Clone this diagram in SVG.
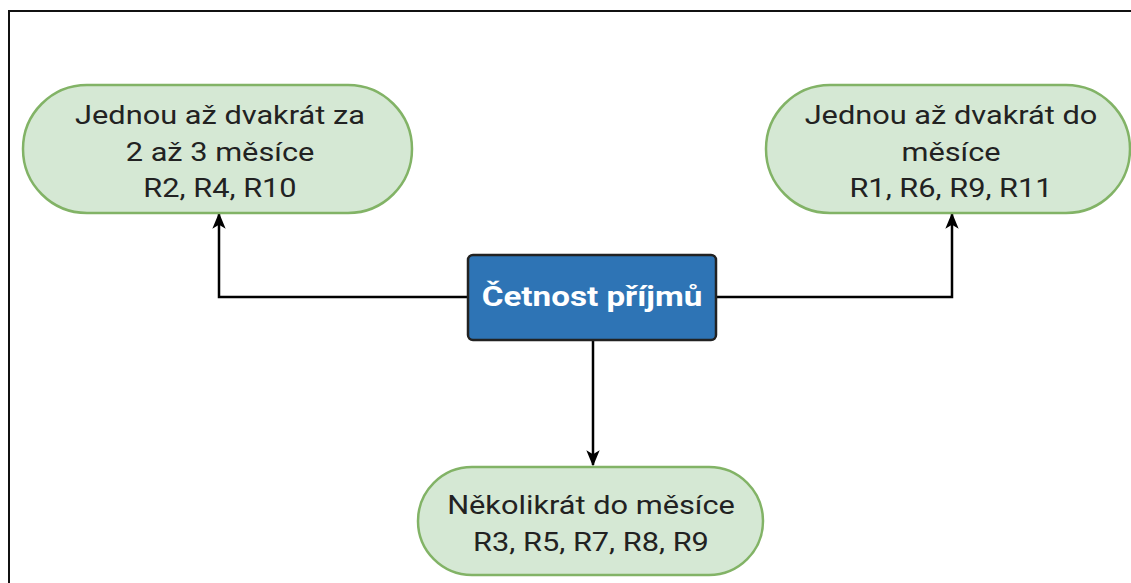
<svg xmlns="http://www.w3.org/2000/svg" width="1131" height="583" viewBox="0 0 1131 583">
<defs>
<style>
.term{fill:#d5e8d4;stroke:#82b366;stroke-width:2.5}
.t{font-family:Roboto,"Liberation Sans",sans-serif;font-size:25px;fill:#222;text-anchor:middle}
.conn{fill:none;stroke:#000;stroke-width:2.5}
</style>
<marker id="a" viewBox="0 0 12 12" refX="11" refY="6" markerWidth="16" markerHeight="16" markerUnits="userSpaceOnUse" orient="auto">
<path d="M0,1 L12,6 L0,11 L3,6 z" fill="#000"/>
</marker>
</defs>
<rect width="1131" height="583" fill="#fff"/>
<path d="M9,583 V11 H1131" fill="none" stroke="#111" stroke-width="2"/>
<g id="connectors">
<path class="conn" d="M468,297 H219 V214" marker-end="url(#a)"/>
<path class="conn" d="M716,297 H952 V214" marker-end="url(#a)"/>
<path class="conn" d="M593,341 V465" marker-end="url(#a)"/>
</g>
<g id="n-left">
<rect class="term" x="23" y="85" width="389" height="128" rx="64"/>
<g transform="translate(220,0) scale(1.23,1)">
<text class="t" x="0" y="124">Jednou až dvakrát za</text>
<text class="t" x="0" y="161">2 až 3 měsíce</text>
<text class="t" x="0" y="197">R2, R4, R10</text>
</g>
</g>
<g id="n-right">
<rect class="term" x="766" y="85" width="364" height="128" rx="64"/>
<g transform="translate(951,0) scale(1.23,1)">
<text class="t" x="0" y="124">Jednou až dvakrát do</text>
<text class="t" x="0" y="161">měsíce</text>
<text class="t" x="0" y="197">R1, R6, R9, R11</text>
</g>
</g>
<g id="n-center">
<rect x="468" y="255" width="248" height="85" rx="5" fill="#2e74b5" stroke="#222" stroke-width="2.5"/>
<g transform="translate(592,0) scale(1.23,1)">
<text x="0" y="306" font-family="Roboto,'Liberation Sans',sans-serif" font-size="27" font-weight="bold" fill="#fff" text-anchor="middle">Četnost příjmů</text>
</g>
</g>
<g id="n-bottom">
<rect class="term" x="418" y="467" width="345" height="108" rx="54"/>
<g transform="translate(591,0) scale(1.23,1)">
<text class="t" x="0" y="514">Několikrát do měsíce</text>
<text class="t" x="0" y="551">R3, R5, R7, R8, R9</text>
</g>
</g>
</svg>
